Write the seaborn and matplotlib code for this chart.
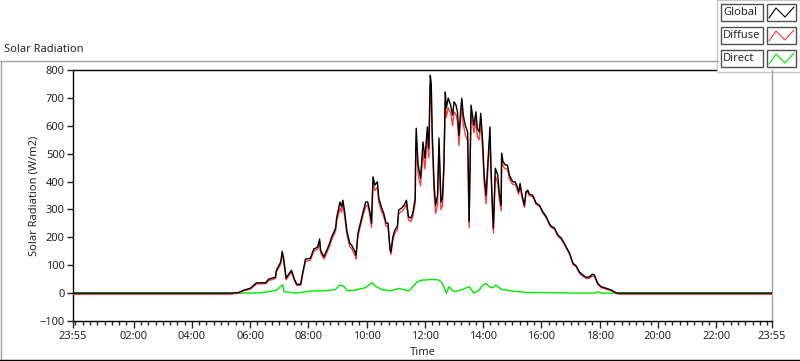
import numpy as np
import pandas as pd
import matplotlib
matplotlib.use("Agg")
import matplotlib.pyplot as plt
from matplotlib.lines import Line2D
from matplotlib.patches import Rectangle
from matplotlib.ticker import FixedLocator, MultipleLocator
import seaborn as sns

# time in minutes after midnight (axis starts 23:55 the day before = -5)
minutes = [
    -5, 319, 336, 346, 361, 373, 392, 398, 412, 414, 423, 426, 429, 434, 441, 445, 451, 456, 464, 468,
    474, 484, 491, 499, 503, 505, 512, 518, 524, 528, 536, 538, 545, 548, 551, 555, 559, 565, 569, 576,
    578, 582, 587, 592, 598, 602, 606, 610, 613, 617, 622, 625, 631, 635, 640, 644, 648, 650, 654, 658,
    663, 666, 672, 677, 682, 686, 691, 695, 700, 701, 702, 706, 711, 716, 720, 725, 728, 731, 733, 735,
    739, 742, 746, 749, 753, 756, 759, 762, 764, 768, 773, 777, 780, 784, 787, 790, 794, 796, 799, 803,
    808, 811, 815, 818, 821, 825, 828, 832, 835, 839, 842, 846, 849, 854, 856, 859, 861, 865, 870, 873,
    877, 878, 881, 886, 890, 894, 897, 901, 906, 909, 913, 916, 920, 925, 928, 932, 935, 942, 945, 949,
    956, 963, 970, 976, 980, 987, 994, 1001, 1011, 1018, 1025, 1032, 1038, 1045, 1052, 1059, 1065, 1069, 1076, 1083,
    1094, 1104, 1114, 1121, 1435,
]
global_rad = [
    0, 0, 2, 10, 18, 37, 37, 50, 57, 82, 112, 150, 125, 54, 72, 82, 50, 32, 32, 72,
    122, 125, 158, 165, 194, 154, 130, 154, 180, 202, 233, 269, 327, 309, 333, 287, 226, 179, 172, 148,
    136, 215, 251, 287, 327, 327, 298, 251, 417, 387, 399, 340, 305, 287, 251, 251, 161, 148, 202, 226,
    238, 298, 305, 315, 333, 274, 269, 287, 340, 513, 591, 459, 412, 542, 484, 596, 520, 781, 752, 578,
    387, 315, 351, 556, 327, 340, 459, 721, 663, 699, 674, 638, 686, 674, 650, 566, 663, 699, 638, 602,
    578, 256, 674, 638, 602, 650, 591, 578, 645, 542, 423, 351, 448, 596, 459, 315, 233, 448, 423, 363,
    315, 502, 471, 459, 459, 423, 412, 399, 399, 387, 363, 393, 351, 315, 363, 369, 355, 351, 340, 323,
    315, 291, 274, 251, 240, 233, 208, 197, 166, 143, 107, 97, 76, 65, 57, 58, 68, 65, 35, 23,
    17, 11, 1, 0, 0,
]
diffuse_rad = [
    -4, -4, 0, 8, 15, 33, 34, 45, 52, 75, 105, 140, 115, 48, 66, 76, 45, 28, 28, 64,
    114, 118, 150, 158, 185, 145, 122, 146, 170, 192, 222, 255, 305, 290, 318, 270, 212, 168, 160, 135,
    122, 204, 240, 275, 312, 315, 285, 236, 395, 368, 380, 325, 292, 276, 240, 240, 152, 138, 192, 215,
    226, 285, 293, 302, 320, 262, 257, 274, 325, 480, 555, 425, 385, 505, 445, 560, 485, 740, 715, 540,
    355, 285, 320, 520, 300, 312, 430, 690, 630, 665, 645, 600, 650, 640, 615, 530, 630, 665, 605, 570,
    545, 235, 645, 610, 575, 620, 560, 550, 615, 510, 395, 320, 420, 565, 430, 290, 215, 420, 395, 340,
    295, 485, 455, 445, 445, 410, 400, 390, 390, 378, 355, 385, 343, 307, 355, 364, 350, 346, 335, 318,
    311, 287, 270, 247, 236, 229, 204, 193, 162, 139, 103, 93, 72, 61, 53, 53, 62, 60, 31, 20,
    14, 8, -1, -4, -4,
]

direct_minutes = [
    -5, 336, 383, 414, 427, 430, 455, 487, 515, 536, 544, 553, 560, 577, 598, 611, 618, 631, 649, 666,
    687, 704, 714, 722, 735, 749, 756, 764, 770, 780, 794, 811, 821, 832, 839, 846, 852, 859, 866, 877,
    887, 901, 916, 932, 956, 1000, 1045, 1070, 1076, 1083, 1114, 1435,
]
direct_rad = [
    0, 0, 1, 10, 30, 5, 0, 8, 8, 13, 29, 25, 8, 11, 20, 37, 25, 13, 8, 17,
    8, 40, 47, 47, 49, 47, 35, 0, 23, 5, 11, 23, 0, 11, 29, 35, 23, 19, 29, 14,
    11, 7, 5, 2, 2, 1, 0, 0, 5, 0, 0, 0,
]

major_ticks = [-5, 120, 240, 360, 480, 600, 720, 840, 960, 1080, 1200, 1320, 1435]
major_labels = ["23:55", "02:00", "04:00", "06:00", "08:00", "10:00", "12:00",
                "14:00", "16:00", "18:00", "20:00", "22:00", "23:55"]

sns.set_style("white")
plt.rcParams["font.family"] = ["Noto Sans", "DejaVu Sans"]
plt.rcParams["font.size"] = 8

df = pd.DataFrame({"t": minutes, "Global": global_rad, "Diffuse": diffuse_rad})
df_dir = pd.DataFrame({"t": direct_minutes, "Direct": direct_rad})

fig = plt.figure(figsize=(8, 3.61), dpi=100)
ax = fig.add_axes([73 / 800, 1 - 321 / 361, (772 - 73) / 800, (321 - 70) / 361])

sns.lineplot(data=df_dir, x="t", y="Direct", color="#00e800", lw=1.0, ax=ax, zorder=2)
sns.lineplot(data=df, x="t", y="Diffuse", color="#ff3a3a", lw=1.0, ax=ax, zorder=3)
sns.lineplot(data=df, x="t", y="Global", color="black", lw=1.0, ax=ax, zorder=4)

ax.set_xlim(-5, 1435)
ax.set_ylim(-100, 800)
ax.xaxis.set_major_locator(FixedLocator(major_ticks))
ax.set_xticklabels(major_labels)
ax.xaxis.set_minor_locator(FixedLocator(list(range(0, 1436, 15))))
ax.yaxis.set_major_locator(MultipleLocator(100))
ax.tick_params(axis="x", which="major", direction="out", length=5, width=1, pad=2, labelsize=8)
ax.tick_params(axis="x", which="minor", direction="out", length=3, width=1)
ax.tick_params(axis="y", which="major", direction="out", length=4, width=1, pad=2, labelsize=8)
ax.tick_params(bottom=True, left=True, which="both")

ax.set_xlabel("Time", fontsize=8, labelpad=4)
ax.set_ylabel("Solar Radiation (W/m2)", fontsize=8, labelpad=0)

for side in ["left", "bottom", "top"]:
    ax.spines[side].set_color("black")
    ax.spines[side].set_linewidth(1)
ax.spines["right"].set_color("#a0a0a0")
ax.spines["right"].set_linewidth(1)
ax.spines["top"].set_visible(True)
ax.spines["right"].set_visible(True)

# outer chart frame
fig.add_artist(Line2D([0, 718 / 800], [1 - 61 / 361] * 2, color="#a0a0a0", lw=1))
fig.add_artist(Line2D([1 / 800] * 2, [1 - 61 / 361, 0], color="#a0a0a0", lw=1))
fig.add_artist(Line2D([0, 1], [1 / 361] * 2, color="black", lw=1))
fig.add_artist(Line2D([772 / 800] * 2, [1 - 70 / 361, 1 - 72 / 361], color="#a0a0a0", lw=1))

fig.text(4 / 800, 1 - 50 / 361, "Solar Radiation", fontsize=8, va="center", ha="left")

# plot legend panel
fig.add_artist(Rectangle((717 / 800, 1 - 72 / 361), 83 / 800, 72 / 361,
                         transform=fig.transFigure, facecolor="white", edgecolor="#c8c8c8", lw=1))
legend_rows = [("Global", "black"), ("Diffuse", "#ff3a3a"), ("Direct", "#00e800")]
for i, (name, col) in enumerate(legend_rows):
    top = 4 + i * 23
    y0 = 1 - (top + 17) / 361
    h = 17 / 361
    fig.add_artist(Rectangle((721 / 800, y0), 42 / 800, h, transform=fig.transFigure,
                             facecolor="white", edgecolor="#505050", lw=1))
    fig.text(723 / 800, y0 + h / 2, name, fontsize=8, va="center", ha="left")
    fig.add_artist(Rectangle((767 / 800, y0), 29 / 800, h, transform=fig.transFigure,
                             facecolor="white", edgecolor="#505050", lw=1))
    zx = [769, 776, 785, 794]
    zy = [top + 14, top + 4, top + 13, top + 3]
    fig.add_artist(Line2D([v / 800 for v in zx], [1 - v / 361 for v in zy], color=col, lw=0.8))

fig.savefig("out.png", dpi=100)
